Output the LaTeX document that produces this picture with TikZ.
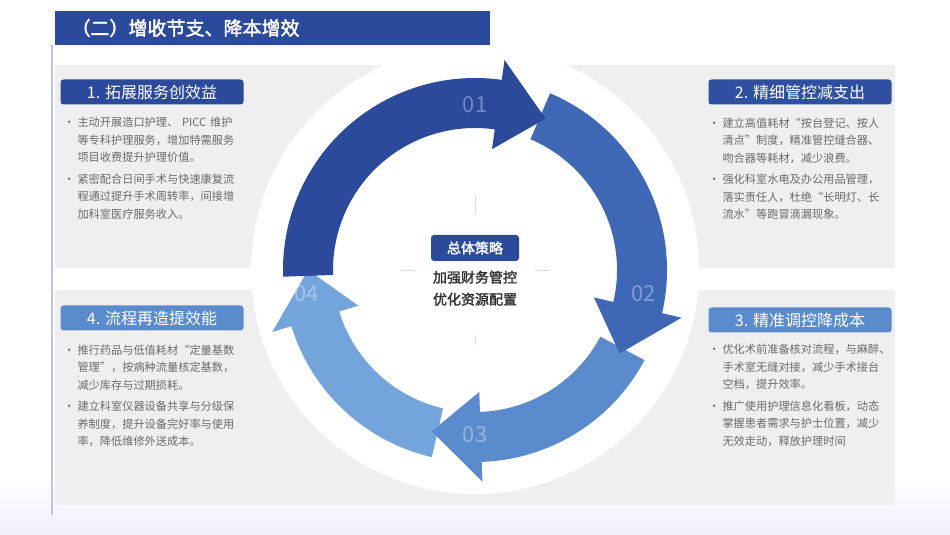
\documentclass[tikz,border=0pt]{standalone}
\usepackage{fontspec}
\setmainfont{Noto Sans CJK SC}
\newfontfamily\cjkbold[FakeBold=2]{Noto Sans CJK SC}
\usetikzlibrary{positioning,calc}
\definecolor{darkblue}{HTML}{2B4A9C}
\definecolor{midblue}{HTML}{3E67B6}
\definecolor{lightblue}{HTML}{5A8CCD}
\definecolor{paleblue}{HTML}{74A4DC}
\definecolor{panelgray}{HTML}{EFEFF0}
\definecolor{bodygray}{HTML}{6A6A6A}
\newcommand{\ringseg}[4]{%
  \fill[#1] (#2:192) arc[start angle=#2,end angle=#3,radius=192]
    -- (#3:212) -- (#4:167) -- (#3:122) -- (#3:142)
    arc[start angle=#3,end angle=#2,radius=142] -- cycle;}
\tikzset{
  heading/.style={fill=#1, rounded corners=3pt, minimum width=183pt,
    minimum height=25pt, text=white, font=\fontsize{16}{16}\selectfont},
  body/.style={text width=180pt, align=left, text=bodygray,
    font=\fontsize{11.2}{17.5}\selectfont, anchor=north west},
  ringnum/.style={text=white, opacity=0.35, font=\fontsize{22}{22}\selectfont},
}
\newcommand{\bul}{\makebox[14pt][l]{\textbullet}}
\begin{document}
\begin{tikzpicture}[x=1pt,y=1pt]
      \useasboundingbox (0,0) rectangle (950,535);
      \fill[white] (0,0) rectangle (950,535);
      \shade[top color=white, bottom color=blue!6] (0,0) rectangle (950,60);
      \draw[blue!25, line width=1.5pt] (52,20) -- (52,490);

      % panels
      \fill[panelgray] (55,267) rectangle (895,470);
      \fill[panelgray] (55,30) rectangle (895,245);
      \fill[white] (475,265) circle (224);
      \draw[gray!30] (475,265) ++(-75,0) -- ++(150,0);
      \draw[gray!30] (475,265) ++(0,-75) -- ++(0,150);

      % title
      \fill[darkblue] (55,490) -- (490,490) -- (490,524) -- (55,524) -- cycle;
      \node[anchor=west, text=white, font=\cjkbold\fontsize{19}{19}\selectfont]
        (title) at (68,507) {（二）增收节支、降本增效};

      % ring
      \begin{scope}[shift={(475,265)}]
        \ringseg{paleblue}{257}{197}{180}
        \ringseg{lightblue}{-28}{-88}{-105}
        \ringseg{midblue}{67}{-13}{-30}
        \ringseg{darkblue}{182}{82}{65}
        \node[ringnum] (n1) at (90:165) {01};
        \node[ringnum] (n2) at (-8:170) {02};
        \node[ringnum] (n3) at (-90:165) {03};
        \node[ringnum] (n4) at (188:170) {04};
        \fill[white] (0,0) circle (75);
        \draw[gray!30] (-75,0) -- (75,0);
        \draw[gray!30] (0,-75) -- (0,75);
        \fill[white] (0,-5) circle (60);
      \end{scope}

      % centre
      \node[fill=darkblue, rounded corners=3pt, text=white, minimum width=88pt,
        minimum height=26pt, font=\cjkbold\fontsize{14}{14}\selectfont]
        (core) at (475,287) {总体策略};
      \node[below=6pt of core, align=center, text=black!80,
        font=\cjkbold\fontsize{14}{22}\selectfont] (aim) {加强财务管控\\优化资源配置};

      % headings
      \node[heading=darkblue] (h1) at (152,443) {1. 拓展服务创效益};
      \node[heading=darkblue!80!midblue] (h2) at (800,443) {2. 精细管控减支出};
      \node[heading=lightblue] (h3) at (800,215) {3. 精准调控降成本};
      \node[heading=lightblue] (h4) at (152,217) {4. 流程再造提效能};

      % texts
      \node[body] (t1) at (60,421) {\bul 主动开展造口护理、 PICC 维护\\\hspace*{14pt}等专科护理服务，增加特需服务\\\hspace*{14pt}项目收费提升护理价值。\\[4pt]
        \bul 紧密配合日间手术与快速康复流\\\hspace*{14pt}程通过提升手术周转率，间接增\\\hspace*{14pt}加科室医疗服务收入。};
      \node[body] (t2) at (705,421) {\bul 建立高值耗材“按台登记、按人\\\hspace*{14pt}清点”制度，精准管控缝合器、\\\hspace*{14pt}吻合器等耗材，减少浪费。\\[4pt]
        \bul 强化科室水电及办公用品管理，\\\hspace*{14pt}落实责任人，杜绝“长明灯、长\\\hspace*{14pt}流水”等跑冒滴漏现象。};
      \node[body] (t3) at (705,194) {\bul 优化术前准备核对流程，与麻醉、\\\hspace*{14pt}手术室无缝对接，减少手术接台\\\hspace*{14pt}空档，提升效率。\\[4pt]
        \bul 推广使用护理信息化看板，动态\\\hspace*{14pt}掌握患者需求与护士位置，减少\\\hspace*{14pt}无效走动，释放护理时间};
      \node[body] (t4) at (60,194) {\bul 推行药品与低值耗材“定量基数\\\hspace*{14pt}管理”，按病种流量核定基数，\\\hspace*{14pt}减少库存与过期损耗。\\[4pt]
        \bul 建立科室仪器设备共享与分级保\\\hspace*{14pt}养制度，提升设备完好率与使用\\\hspace*{14pt}率，降低维修外送成本。};
\end{tikzpicture}
\end{document}
